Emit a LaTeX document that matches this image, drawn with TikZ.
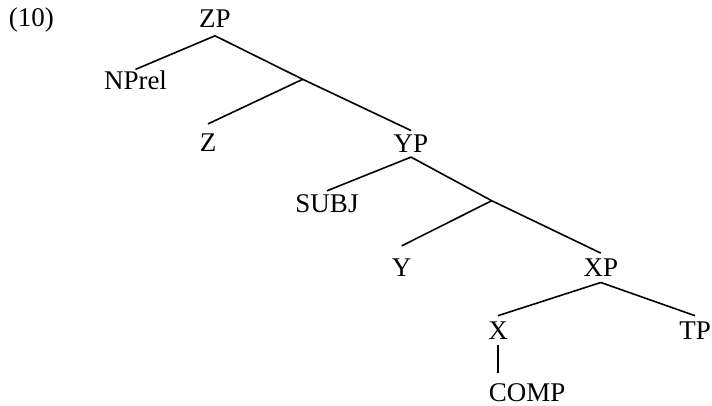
\documentclass[tikz,border=0pt]{standalone}
\usepackage{fontspec}
\setmainfont{Liberation Serif}
\usetikzlibrary{positioning}

\begin{document}
\begin{tikzpicture}[x=0.5pt, y=-0.5pt, line width=0.8pt,
	   font=\fontsize{13.5}{16}\selectfont,
	   t/.style={anchor=base, inner xsep=0pt, inner ysep=2.5pt, text height=8.9pt, text depth=0pt}]
	  \useasboundingbox (0,0) rectangle (712,406);
	  \node[anchor=base west, inner sep=0pt] (ex) at (8,27) {(10)};
	  % tree nodes
	  \node[t, inner ysep=3.75pt] (zp) at (215,27.5) {ZP};
	  \node[t, inner ysep=1pt] (nprel) at (135.5,90) {NPrel};
	  \node[t, inner ysep=4.6pt] (z) at (208,151.7) {Z};
	  \node[t, inner ysep=1.8pt] (yp) at (411,152.7) {YP};
	  \node[t, inner ysep=1.8pt] (subj) at (327,213) {SUBJ};
	  \node[t, inner ysep=6.1pt] (y) at (401.7,276.7) {Y};
	  \node[t] (xp) at (600.8,276.7) {XP};
	  \node[t] (x) at (498,339.3) {X};
	  \node[t] (tp) at (695,339.3) {TP};
	  \node[t, inner ysep=5.1pt] (comp) at (527.2,401.7) {COMP};
	  \coordinate (b1) at (302.7,79.3);
	  \coordinate (b2) at (491.7,200.7);
	  % branches
	  \draw (zp.south) -- (nprel.north);
	  \draw (zp.south) -- (b1);
	  \draw (b1) -- (z.north);
	  \draw (b1) -- (yp.north);
	  \draw (yp.south) -- (subj.north);
	  \draw (yp.south) -- (b2);
	  \draw (b2) -- (y.north);
	  \draw (b2) -- (xp.north);
	  \draw (xp.south) -- (x.north);
	  \draw (xp.south) -- (tp.north);
	  \draw (x.south) -- (x.south |- comp.north);
	\end{tikzpicture}
\end{document}
